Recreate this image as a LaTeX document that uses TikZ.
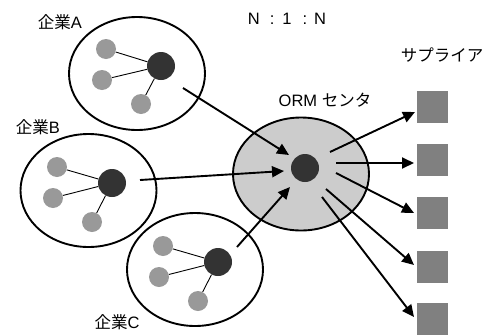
\documentclass[tikz,border=0pt]{standalone}
\usepackage{fontspec}
\setmainfont{Liberation Sans}
\newfontfamily\jp{Noto Sans CJK JP}
\usetikzlibrary{shapes.geometric,arrows.meta}
\definecolor{darkdot}{HTML}{333333}
\definecolor{lightdot}{HTML}{999999}
\definecolor{ormfill}{HTML}{CCCCCC}
\definecolor{supfill}{HTML}{808080}
\tikzset{
  group/.style={ellipse,draw=black,line width=1.9pt,minimum width=136pt,minimum height=113pt,inner sep=0pt},
  hub/.style={circle,fill=darkdot,minimum size=28pt,inner sep=0pt},
  member/.style={circle,fill=lightdot,minimum size=20pt,inner sep=0pt},
  link/.style={line width=0.9pt},
  flow/.style={line width=1.9pt,-{Triangle[length=12pt,width=11pt]}},
  supplier/.style={rectangle,fill=supfill,minimum width=31pt,minimum height=32pt,inner sep=0pt},
  lbl/.style={inner sep=0pt,font=\fontsize{16.5}{19}\selectfont}
}
\begin{document}
\begin{tikzpicture}[x=1pt,y=-1pt]
\useasboundingbox (0,0) rectangle (490,335);
% groups
\node[group] (gA) at (137,73.5) {};
\node[group] (gB) at (88.5,190.5) {};
\node[group] (gC) at (195,269.5) {};
\node[group,fill=ormfill] (orm) at (301,174) {};
% group A
\node[hub] (hA) at (161,66) {};
\node[member] (a1) at (106,49) {};
\node[member] (a2) at (102,80) {};
\node[member] (a3) at (141,104) {};
\draw[link] (a1) -- (hA); \draw[link] (a2) -- (hA); \draw[link] (a3) -- (hA);
% group B
\node[hub] (hB) at (112,183) {};
\node[member] (b1) at (57,167) {};
\node[member] (b2) at (53,198) {};
\node[member] (b3) at (92,222) {};
\draw[link] (b1) -- (hB); \draw[link] (b2) -- (hB); \draw[link] (b3) -- (hB);
% group C
\node[hub] (hC) at (218,262) {};
\node[member] (c1) at (163,246) {};
\node[member] (c2) at (159,277) {};
\node[member] (c3) at (198,301) {};
\draw[link] (c1) -- (hC); \draw[link] (c2) -- (hC); \draw[link] (c3) -- (hC);
% ORM hub
\node[hub] (hO) at (305,168) {};
% suppliers
\node[supplier] (s1) at (432,107) {};
\node[supplier] (s2) at (432,160) {};
\node[supplier] (s3) at (432,213) {};
\node[supplier] (s4) at (432,267) {};
\node[supplier] (s5) at (432,319) {};
% labels
\node[lbl] (lA) at (60,22) {{\jp 企業}A};
\node[lbl] (lB) at (38,127) {{\jp 企業}B};
\node[lbl] (lC) at (117,322) {{\jp 企業}C};
\node[lbl] (lN) at (287,19) {N\hspace{10pt}:\hspace{8pt}1\hspace{11pt}:\hspace{7pt}N};
\node[lbl] (lS) at (442,55) {\jp サプライア};
\node[lbl] (lO) at (325,100) {ORM {\jp センタ}};
% incoming arrows
\coordinate (inA) at (183,88);   \coordinate (toA) at (289,155);
\coordinate (inB) at (140,180);  \coordinate (toB) at (284,171);
\coordinate (inC) at (237,247);  \coordinate (toC) at (290,187);
\draw[flow] (inA) -- (toA);
\draw[flow] (inB) -- (toB);
\draw[flow] (inC) -- (toC);
% outgoing arrows
\coordinate (o1) at (330,152); \coordinate (e1) at (415,112);
\coordinate (o2) at (336,163); \coordinate (e2) at (414,163);
\coordinate (o3) at (336,173); \coordinate (e3) at (414,213);
\coordinate (o4) at (326,189); \coordinate (e4) at (414,265);
\coordinate (o5) at (322,197); \coordinate (e5) at (414,317);
\draw[flow] (o1) -- (e1);
\draw[flow] (o2) -- (e2);
\draw[flow] (o3) -- (e3);
\draw[flow] (o4) -- (e4);
\draw[flow] (o5) -- (e5);
\end{tikzpicture}
\end{document}
